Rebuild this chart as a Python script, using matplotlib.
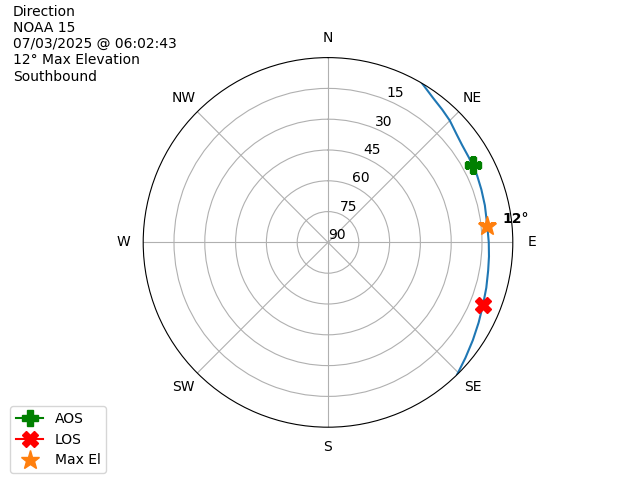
import numpy as np
import matplotlib.pyplot as plt

# pass track (azimuth deg, elevation deg)
track_az = [30.6, 36, 40.7, 45, 50, 54, 59, 65.8, 71, 76.7, 84, 90, 95, 100, 106, 112, 118, 124, 130, 135.7]
track_el = [0, 3.0, 4.7, 6.1, 8.2, 9.3, 9.9, 10.4, 11.0, 11.5, 12, 11.7, 11.3, 10.8, 9.8, 8.6, 6.9, 4.9, 2.6, 0]

aos = (62, 10)
los = (112, 8.6)
max_el = (84, 12)

compass = ["N", "NE", "E", "SE", "S", "SW", "W", "NW"]
r_ticks = [0, 15, 30, 45, 60, 75]
r_labels = ["90", "75", "60", "45", "30", "15"]

fig = plt.figure(figsize=(6.4, 4.8), dpi=100)
ax = fig.add_subplot(111, projection="polar")
ax.set_theta_zero_location("N")
ax.set_theta_direction(-1)

az = np.radians(track_az)
r = 90 - np.array(track_el)
ax.plot(az, r, color="C0", lw=1.5)

ax.plot(np.radians(aos[0]), 90 - aos[1], marker="P", color="green", ms=12, label="AOS")
ax.plot(np.radians(los[0]), 90 - los[1], marker="X", color="red", ms=12, label="LOS")
ax.plot(np.radians(max_el[0]), 90 - max_el[1], marker="*", color="C1", ms=14, ls="", label="Max El")
ax.annotate(f"{max_el[1]}°", (np.radians(max_el[0]), 90 - max_el[1]),
            xytext=(11, 5), textcoords="offset points", ha="left", va="center",
            fontweight="bold")

ax.set_xticks(np.radians(np.arange(0, 360, 45)))
ax.set_xticklabels(compass)
ax.set_ylim(0, 90)
ax.set_yticks(r_ticks)
ax.set_yticklabels(r_labels)
ax.grid(True)

fig.text(0.02, 0.99, "Direction\nNOAA 15\n07/03/2025 @ 06:02:43\n12° Max Elevation\nSouthbound",
         ha="left", va="top")
fig.legend(loc="lower left", bbox_to_anchor=(0.005, 0))

fig.savefig("out.png")
